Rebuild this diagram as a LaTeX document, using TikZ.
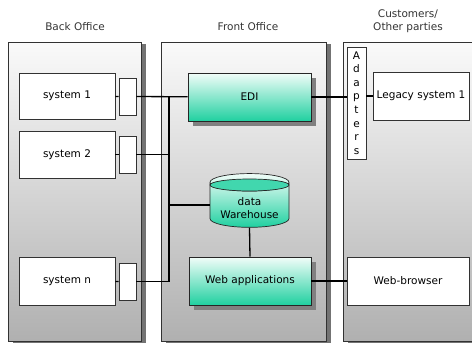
\documentclass[tikz,border=0pt]{standalone}
\usepackage{fontspec}
\setmainfont{DejaVu Sans}
\usepackage{tikz}
\usetikzlibrary{shapes.geometric}
\usetikzlibrary{shadows}
\usepackage{xcolor}
\definecolor{tealdark}{RGB}{32,208,160}
\definecolor{teallight}{RGB}{242,253,249}
\definecolor{edgegray}{RGB}{50,50,50}

\begin{document}
\begin{tikzpicture}[x=1pt,y=-1pt,
  every node/.style={font=\fontsize{10.5}{13}\selectfont, inner sep=0pt},
  panel/.style={draw=edgegray, line width=0.7pt, top color=white!98!black, bottom color=black!31,
    drop shadow={shadow xshift=5pt,shadow yshift=-2pt,fill=black!55,opacity=1}},
  sysbox/.style={draw=edgegray, line width=0.7pt, fill=white, minimum width=96pt, minimum height=46pt},
  portbox/.style={draw=edgegray, line width=0.7pt, fill=white, minimum width=17pt, minimum height=37pt},
  appbox/.style={draw=black!85, line width=0.7pt, top color=teallight, bottom color=tealdark,
    minimum width=123pt, minimum height=48pt,
    drop shadow={shadow xshift=5pt,shadow yshift=-5pt,fill=black!50,opacity=1}},
  conn/.style={draw=black, line width=1.3pt},
  title/.style={text=black!80, align=center}]
 \useasboundingbox (0,0) rectangle (472,343);
 \clip (0,0) rectangle (472,343);

 % panels
 \node[panel, minimum width=133pt, minimum height=299pt] (back) at (74.5,191.5) {};
 \node[panel, minimum width=165pt, minimum height=299pt] (front) at (243.5,191.5) {};
 \node[panel, minimum width=140pt, minimum height=299pt] (cust) at (413,191.5) {};
 \node[title] (backlbl) at (75,27) {Back Office};
 \node[title] (frontlbl) at (248,27) {Front Office};
 \node[title] (custlbl) at (408,21) {Customers/\\Other parties};

 % back office systems
 \node[sysbox] (sys1) at (67,96) {system 1};
 \node[sysbox, minimum height=47pt] (sys2) at (67,154.5) {system 2};
 \node[sysbox, minimum height=48pt] (sysn) at (67,281) {system n};
 \node[portbox] (p1) at (127.5,96.5) {};
 \node[portbox] (p2) at (127.5,154.5) {};
 \node[portbox] (pn) at (127.5,281.5) {};

 % front office
 \node[appbox] (edi) at (249.5,97) {EDI};
 \node[appbox, minimum width=122pt] (web) at (250,281) {Web applications};
 \node[cylinder, shape border rotate=90, aspect=0.3, draw=black!85, line width=0.7pt,
   top color=teallight, bottom color=tealdark,
   minimum width=79pt, minimum height=52pt, align=center] (dw) at (249.5,205)
   {\\[1pt]data\\Warehouse};
 \draw[draw=black!85, line width=0.7pt, fill=tealdark!85] (249.5,185) ellipse [x radius=39.5, y radius=6];

 % customers
 \node[draw=edgegray, line width=0.7pt, fill=white, minimum width=19pt, minimum height=112pt,
   align=center, font=\fontsize{10.5}{13.6}\selectfont] (adapt) at (356.5,103)
   {A\\d\\a\\p\\t\\e\\r\\s};
 \node[sysbox, minimum width=96pt, minimum height=48pt] (legacy) at (421,96) {Legacy system 1};
 \node[sysbox, minimum width=122pt, minimum height=48pt] (browser) at (408,281) {Web-browser};

 % connections
 \coordinate (bus) at (169,96.5);
 \draw[conn] (sys1) -- (p1);
 \draw[conn] (sys2) -- (p2);
 \draw[conn] (sysn) -- (pn);
 \draw[conn] (p1) -- (edi);
 \draw[conn] (bus) |- (pn.east);
 \draw[conn] (p2.east) -- (p2.east -| bus);
 \draw[conn] (dw.west) -- (dw.west -| bus);
 \draw[conn] (dw.south) -- (web.north);
 \draw[conn] (edi.east) -- (edi.east -| adapt.west);
 \draw[conn] (adapt.east |- legacy) -- (legacy.west);
 \draw[conn] (web) -- (browser);
\end{tikzpicture}
\end{document}
